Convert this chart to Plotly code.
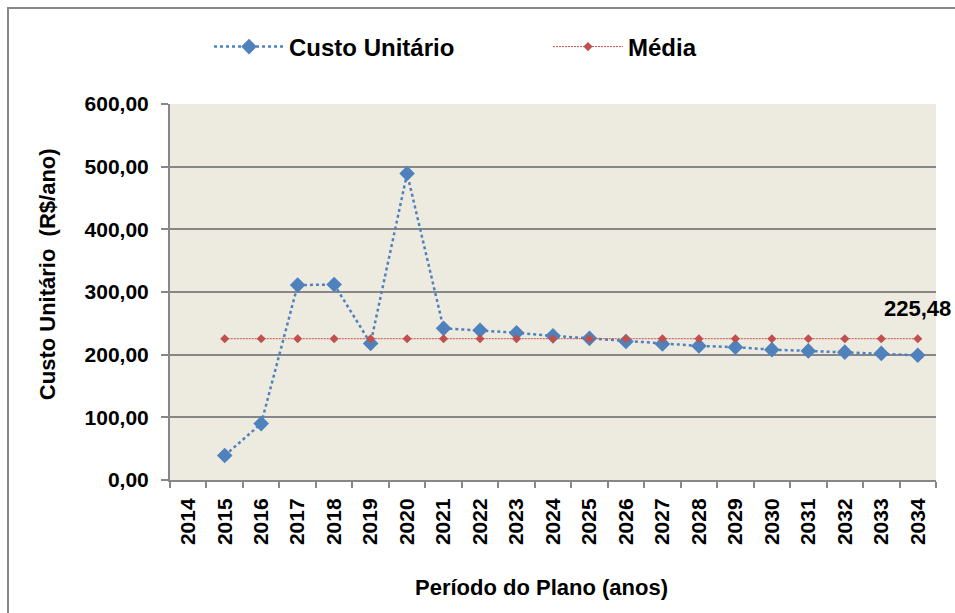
import plotly.graph_objects as go

# Plan years shown on the category axis (2014 has no value)
anos = [str(a) for a in range(2014, 2035)]
anos_dados = [str(a) for a in range(2015, 2035)]

# Unit cost per year (R$/ano)
custo_unitario = [39, 90, 311, 312, 218, 489, 242, 239, 235, 230,
                  226, 221, 217, 214, 212, 208, 206, 204, 202, 199]

# Average over the plan period
media_valor = 225.48
media = [media_valor] * len(anos_dados)
media_rotulo = "225,48"

y_ticks = [0, 100, 200, 300, 400, 500, 600]
y_tick_text = ["0,00", "100,00", "200,00", "300,00", "400,00", "500,00", "600,00"]

FONT = "Liberation Sans, Arial, sans-serif"
AZUL = "#4F81BD"
VERMELHO = "#C0504D"
CINZA = "#878787"

fig = go.Figure()

fig.add_trace(go.Scatter(
    x=anos_dados, y=custo_unitario, name="Custo Unitário",
    mode="lines+markers",
    line=dict(color=AZUL, width=2.5, dash="dot"),
    marker=dict(symbol="diamond", size=12, color=AZUL),
))

fig.add_trace(go.Scatter(
    x=anos_dados, y=media, name="Média",
    mode="lines+markers",
    line=dict(color=VERMELHO, width=1, dash="2px,1px"),
    marker=dict(symbol="diamond", size=7, color=VERMELHO),
))

# Value label above the last average point (category index of 2034)
fig.add_annotation(
    x=anos.index(anos_dados[-1]), y=media_valor, text=media_rotulo,
    xref="x", yref="y",
    showarrow=False, yshift=30,
    font=dict(family=FONT, size=22, color="black", weight="bold"),
)

# Axis titles
fig.add_annotation(
    xref="paper", yref="paper", x=0.485, y=-0.285,
    text="Período do Plano (anos)", showarrow=False,
    xanchor="center", yanchor="middle",
    font=dict(family=FONT, size=22, color="black", weight="bold"),
)
fig.add_annotation(
    xref="paper", yref="paper", x=-0.159, y=0.548,
    text="Custo Unitário \u00a0(R$/ano)", showarrow=False, textangle=-90,
    xanchor="center", yanchor="middle",
    font=dict(family=FONT, size=22, color="black", weight="bold"),
)

# Outer chart frame
fig.add_shape(
    type="rect", xref="paper", yref="paper",
    x0=(8 - 170) / 766, x1=1.1, y0=-0.4, y1=(480 - 8) / 376,
    line=dict(color=CINZA, width=2), fillcolor="rgba(0,0,0,0)", layer="below",
)

fig.update_layout(
    width=955, height=613,
    margin=dict(l=170, r=19, t=104, b=133, autoexpand=False),
    paper_bgcolor="white",
    plot_bgcolor="#EDEAE0",
    showlegend=True,
    legend=dict(
        orientation="h", x=(209 - 170) / 766, y=(480 - 47) / 376,
        xanchor="left", yanchor="middle",
        font=dict(family=FONT, size=24, color="black", weight="bold"),
        itemwidth=70, entrywidth=254, entrywidthmode="pixels",
        bgcolor="rgba(0,0,0,0)",
    ),
    xaxis=dict(
        type="category", categoryorder="array", categoryarray=anos,
        range=[-0.5, len(anos) - 0.5],
        tickmode="array", tickvals=anos, ticktext=anos,
        tickson="boundaries", ticks="outside", ticklen=6,
        tickcolor=CINZA, tickwidth=2,
        tickangle=-90,
        tickfont=dict(family=FONT, size=21, color="black", weight="bold"),
        showline=True, linecolor=CINZA, linewidth=2,
        showgrid=False, zeroline=False,
        ticklabelstandoff=8,
    ),
    yaxis=dict(
        range=[0, 600],
        tickmode="array", tickvals=y_ticks, ticktext=y_tick_text,
        ticks="outside", ticklen=7, tickcolor=CINZA, tickwidth=2,
        tickfont=dict(family=FONT, size=21, color="black", weight="bold"),
        showline=True, linecolor=CINZA, linewidth=2,
        showgrid=True, gridcolor=CINZA, gridwidth=2,
        zeroline=False,
        ticklabelstandoff=8,
    ),
)

fig.write_html("out.html")
